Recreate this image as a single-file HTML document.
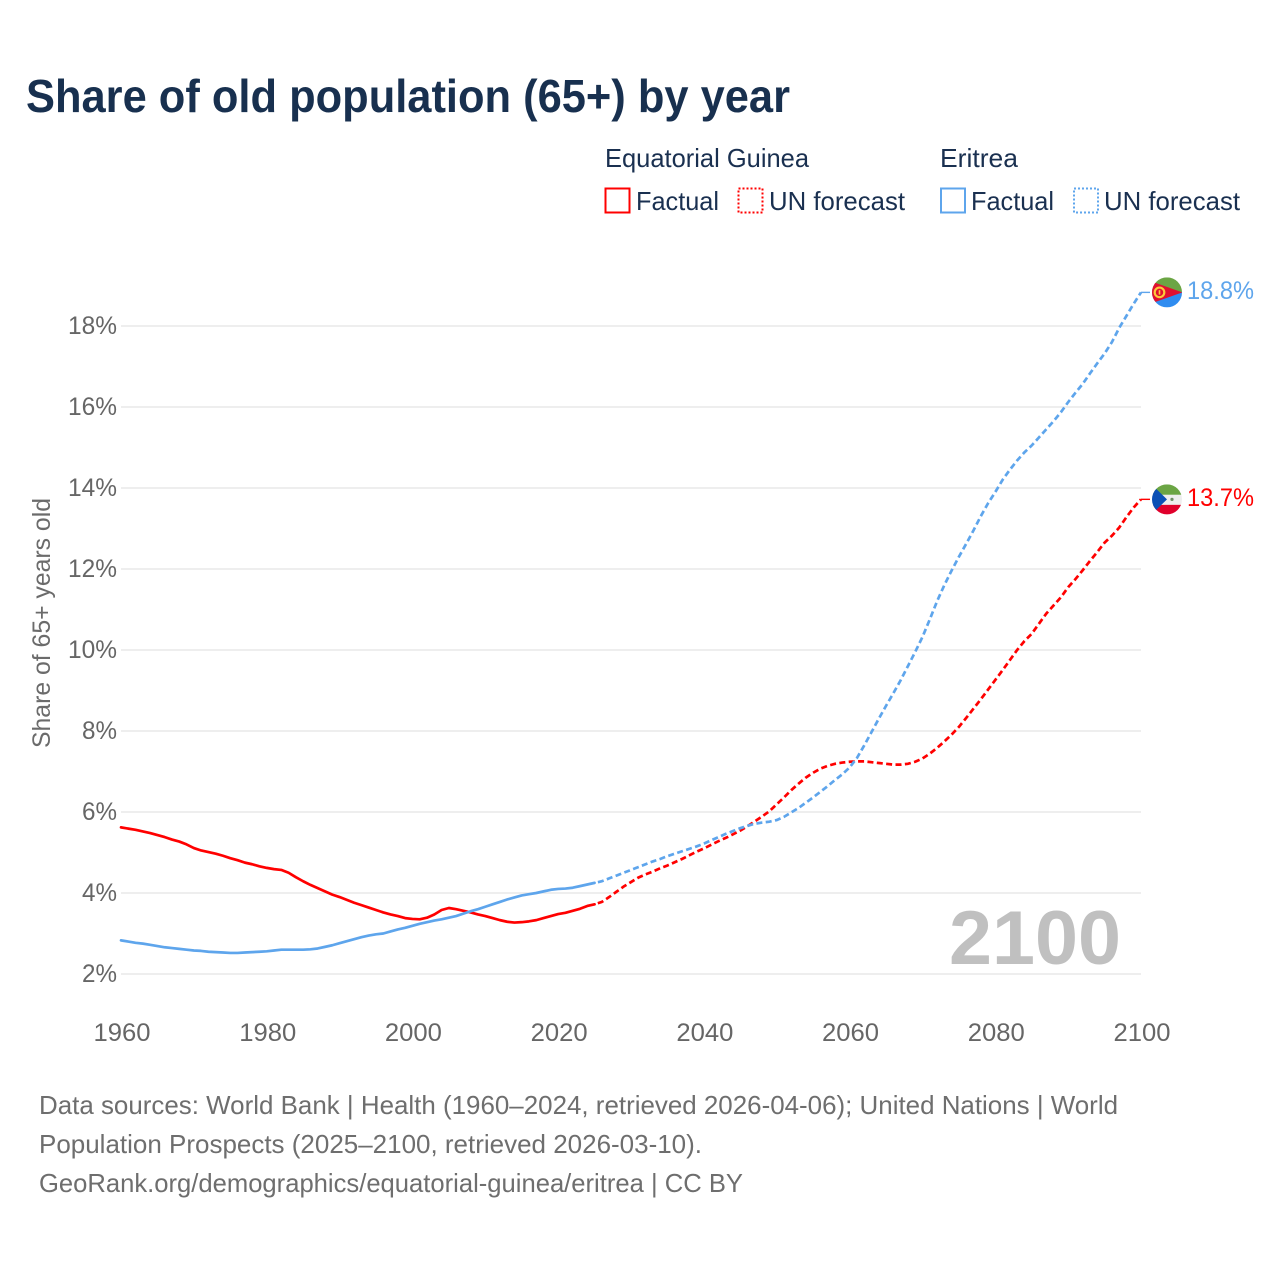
<!DOCTYPE html>
<html lang="en">
<head>
<meta charset="utf-8">
<title>Share of old population (65+) by year</title>
<style>
html,body{margin:0;padding:0;background:#fff}
svg{display:block;font-family:"Liberation Sans",sans-serif}
</style>
</head>
<body>
<svg id="chart" xmlns="http://www.w3.org/2000/svg" width="1280" height="1280" viewBox="0 0 1280 1280">
  <defs>
    <clipPath id="flag-clip"><circle cx="0" cy="0" r="15"/></clipPath>
  </defs>
  <rect width="1280" height="1280" fill="#fff"/>
  <text x="26" y="112" font-size="46" font-weight="700" fill="#18304f" textLength="764" lengthAdjust="spacingAndGlyphs">Share of old population (65+) by year</text>

  <g font-size="26" fill="#1a3050">
    <text x="605" y="167" textLength="204" lengthAdjust="spacingAndGlyphs">Equatorial Guinea</text>
    <text x="940" y="167" textLength="78" lengthAdjust="spacingAndGlyphs">Eritrea</text>
    <rect x="605.5" y="188.5" width="24" height="24" fill="none" stroke="#ff0000" stroke-width="2"/>
    <text x="636" y="210" textLength="83" lengthAdjust="spacingAndGlyphs">Factual</text>
    <rect x="738.5" y="188.5" width="24" height="24" fill="none" stroke="#ff0000" stroke-width="2" stroke-dasharray="2 2"/>
    <text x="769" y="210" textLength="136" lengthAdjust="spacingAndGlyphs">UN forecast</text>
    <rect x="941" y="188.5" width="24" height="24" fill="none" stroke="#5ea5ec" stroke-width="2"/>
    <text x="971" y="210" textLength="83" lengthAdjust="spacingAndGlyphs">Factual</text>
    <rect x="1074" y="188.5" width="24" height="24" fill="none" stroke="#5ea5ec" stroke-width="2" stroke-dasharray="2 2"/>
    <text x="1104" y="210" textLength="136" lengthAdjust="spacingAndGlyphs">UN forecast</text>
  </g>

  <text transform="translate(50 623) rotate(-90)" text-anchor="middle" font-size="25" fill="#6b6b6b" textLength="250" lengthAdjust="spacingAndGlyphs">Share of 65+ years old</text>

  <g id="grid"></g>
  <g id="y-ticks" font-size="25" fill="#666"></g>
  <g id="x-ticks" font-size="25" fill="#666"></g>

  <text x="949" y="964" font-size="76" font-weight="700" fill="#c0c0c0" textLength="172" lengthAdjust="spacingAndGlyphs">2100</text>

  <g id="series"></g>

  <g id="flag-eritrea">
    <g clip-path="url(#flag-clip)">
      <rect x="-15" y="-15" width="30" height="15" fill="#6ba544"/>
      <rect x="-15" y="0" width="30" height="15" fill="#2f8cf0"/>
      <polygon points="-17,-11.5 15.5,0 -17,11.5" fill="#e0102f"/>
      <circle cx="-7.5" cy="0" r="4.8" fill="none" stroke="#fcc93a" stroke-width="2.2"/>
      <rect x="-8.3" y="-2.2" width="1.6" height="4.4" fill="#fcc93a"/>
    </g>
  </g>
  <g id="flag-guinea">
    <g clip-path="url(#flag-clip)">
      <rect x="-15" y="-15" width="30" height="10.5" fill="#6ba544"/>
      <rect x="-15" y="-4.5" width="30" height="10" fill="#eeeeee"/>
      <rect x="-15" y="5.5" width="30" height="10" fill="#e0002b"/>
      <polygon points="-16,-15.5 0,0 -16,15.5" fill="#0b50b5"/>
      <circle cx="5" cy="0" r="1.6" fill="#6f8f66"/>
    </g>
  </g>
  <text id="label-eritrea" x="1187" y="299" font-size="25" fill="#5ea5ec" textLength="67" lengthAdjust="spacingAndGlyphs"></text>
  <text id="label-guinea" x="1187" y="506" font-size="25" fill="#ff0000" textLength="67" lengthAdjust="spacingAndGlyphs"></text>

  <g font-size="26" fill="#6e6e6e">
    <text x="39" y="1114" textLength="1079" lengthAdjust="spacingAndGlyphs">Data sources: World Bank | Health (1960–2024, retrieved 2026-04-06); United Nations | World</text>
    <text x="39" y="1153" textLength="663" lengthAdjust="spacingAndGlyphs">Population Prospects (2025–2100, retrieved 2026-03-10).</text>
    <text x="39" y="1192" textLength="704" lengthAdjust="spacingAndGlyphs">GeoRank.org/demographics/equatorial-guinea/eritrea | CC BY</text>
  </g>
</svg>
<script>
var yTickValues = [2, 4, 6, 8, 10, 12, 14, 16, 18];
var xTickValues = [1960, 1980, 2000, 2020, 2040, 2060, 2080, 2100];
var factualStartYear = 1960;
var forecastStartYear = 2025;
var guineaFactual = [5.62,5.59,5.56,5.52,5.48,5.43,5.38,5.32,5.27,5.20,5.11,5.05,5.01,4.97,4.92,4.86,4.81,4.75,4.71,4.66,4.62,4.59,4.57,4.50,4.39,4.29,4.20,4.12,4.04,3.96,3.90,3.83,3.76,3.70,3.64,3.58,3.52,3.47,3.43,3.38,3.36,3.35,3.39,3.47,3.58,3.63,3.60,3.56,3.52,3.47,3.43,3.38,3.33,3.29,3.27,3.28,3.30,3.33,3.38,3.43,3.48,3.51,3.56,3.61,3.68,3.72];
var guineaForecast = [3.72,3.78,3.90,4.03,4.16,4.27,4.38,4.46,4.53,4.61,4.68,4.76,4.84,4.93,5.02,5.10,5.19,5.28,5.36,5.45,5.54,5.65,5.77,5.89,6.02,6.19,6.36,6.54,6.70,6.85,6.97,7.07,7.14,7.19,7.22,7.24,7.25,7.25,7.23,7.21,7.19,7.17,7.17,7.19,7.24,7.32,7.44,7.58,7.74,7.91,8.10,8.32,8.55,8.78,9.02,9.26,9.50,9.75,10.00,10.22,10.40,10.65,10.90,11.10,11.30,11.55,11.75,11.97,12.20,12.42,12.65,12.82,13.02,13.28,13.52,13.72];
var eritreaFactual = [2.83,2.80,2.77,2.75,2.72,2.69,2.66,2.64,2.62,2.60,2.58,2.57,2.55,2.54,2.53,2.52,2.52,2.53,2.54,2.55,2.56,2.58,2.60,2.60,2.60,2.60,2.61,2.63,2.67,2.71,2.76,2.81,2.86,2.91,2.95,2.98,3.00,3.05,3.10,3.14,3.19,3.24,3.28,3.32,3.35,3.39,3.43,3.49,3.55,3.60,3.66,3.72,3.78,3.84,3.89,3.94,3.97,4.00,4.04,4.08,4.10,4.11,4.13,4.17,4.21,4.25];
var eritreaForecast = [4.25,4.29,4.36,4.43,4.50,4.57,4.64,4.71,4.78,4.84,4.91,4.97,5.03,5.09,5.15,5.22,5.30,5.38,5.46,5.53,5.60,5.66,5.71,5.74,5.76,5.80,5.88,5.99,6.10,6.23,6.36,6.50,6.64,6.79,6.93,7.10,7.33,7.64,7.97,8.30,8.62,8.93,9.25,9.60,9.95,10.32,10.75,11.20,11.60,11.96,12.30,12.62,12.95,13.30,13.62,13.90,14.20,14.45,14.68,14.88,15.05,15.25,15.45,15.65,15.87,16.12,16.35,16.57,16.83,17.08,17.32,17.60,17.95,18.25,18.55,18.83];
var endLabels = ['18.8%', '13.7%'];

var SVGNS = 'http://www.w3.org/2000/svg';
function xScale(year) { return 121 + (year - 1960) * (1020 / 140); }
function yScale(value) { return 974 - (value - 2) * 40.5; }
function make(tag, attrs, parent) {
  var el = document.createElementNS(SVGNS, tag);
  for (var k in attrs) { el.setAttribute(k, attrs[k]); }
  parent.appendChild(el);
  return el;
}
function pathFor(values, startYear) {
  return values.map(function (v, i) {
    return (i ? 'L' : 'M') + xScale(startYear + i).toFixed(2) + ' ' + yScale(v).toFixed(2);
  }).join('');
}

var grid = document.getElementById('grid');
var yTicks = document.getElementById('y-ticks');
var xTicks = document.getElementById('x-ticks');
var series = document.getElementById('series');

yTickValues.forEach(function (t) {
  var line = make('line', { x1: 121, x2: 1141, y1: yScale(t), y2: yScale(t), stroke: '#e9e9e9', 'stroke-width': 1.5 }, grid);
  
  
  var label = make('text', { x: 117, y: yScale(t) + 8, 'text-anchor': 'end' }, yTicks);
  
  
  label.setAttribute('textLength', t >= 10 ? 49 : 35);
  label.setAttribute('lengthAdjust', 'spacingAndGlyphs');
  label.textContent = t + '%';
});

xTickValues.forEach(function (t) {
  var label = make('text', { x: xScale(t) + 1, y: 1041, 'text-anchor': 'middle' }, xTicks);
  
  
  label.setAttribute('textLength', 57);
  label.setAttribute('lengthAdjust', 'spacingAndGlyphs');
  label.textContent = t;
});

function drawSeries(factual, forecast, color) {
  var solid = make('path', { d: pathFor(factual, factualStartYear), fill: 'none', stroke: color, 'stroke-width': 2.7, 'stroke-linejoin': 'round', 'stroke-linecap': 'round' }, series);
  
  
  var dashed = make('path', { d: pathFor(forecast, forecastStartYear), fill: 'none', stroke: color, 'stroke-width': 2.7, 'stroke-dasharray': '6 3.4', 'stroke-dashoffset': 6 }, series);
  
  
  var lastY = yScale(forecast[forecast.length - 1]);
  var connector = make('line', { x1: 1141, x2: 1150, y1: lastY, y2: lastY, stroke: color, 'stroke-width': 1.4 }, series);
  
  
}
drawSeries(guineaFactual, guineaForecast, '#ff0000');
drawSeries(eritreaFactual, eritreaForecast, '#5ea5ec');

var eritreaY = yScale(eritreaForecast[eritreaForecast.length - 1]);
var guineaY = yScale(guineaForecast[guineaForecast.length - 1]);
document.getElementById('flag-eritrea').setAttribute('transform', 'translate(1167 ' + eritreaY + ')');
document.getElementById('flag-guinea').setAttribute('transform', 'translate(1167 ' + guineaY + ')');
var eritreaLabel = document.getElementById('label-eritrea');
eritreaLabel.setAttribute('y', eritreaY + 6.5);
eritreaLabel.textContent = endLabels[0];
var guineaLabel = document.getElementById('label-guinea');
guineaLabel.setAttribute('y', guineaY + 6.5);
guineaLabel.textContent = endLabels[1];
</script>
</body>
</html>
